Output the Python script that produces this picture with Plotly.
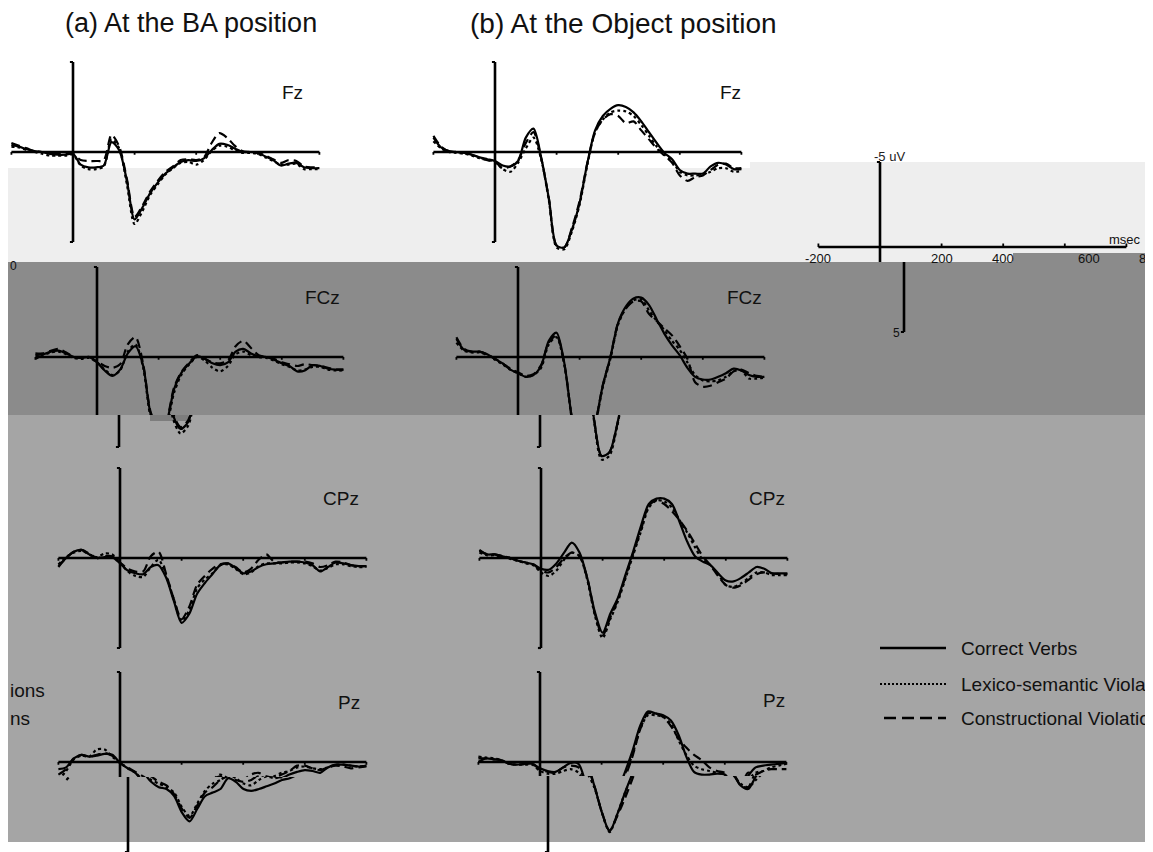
import plotly.graph_objects as go

# ---------------- data ----------------
TIME_MS = list(range(-200, 801, 25))
AXIS_UV = [-5, 5]
X_TICKS_MS = [-200, 200, 400, 600, 800]
KEY_TICK_LABELS = ["-200", "200", "400", "600", "800"]
CONDITIONS = ["Correct Verbs", "Lexico-semantic Violations", "Constructional Violations"]
ELECTRODES = ["Fz", "FCz", "CPz", "Pz"]
POSITIONS = ["(a) At the BA position", "(b) At the Object position"]

# values in microvolts (negative plotted up)
BA_FZ_CORRECT = [-0.4,-0.3,-0.15,-0.05,0.0,0.1,0.15,0.15,0.1,0.7,0.85,0.85,0.75,-0.55,-0.1,1.6,3.75,3.1,2.3,1.7,1.2,0.85,0.55,0.45,0.5,0.35,-0.1,-0.45,-0.4,-0.2,0.0,0.0,0.05,0.25,0.45,0.75,0.65,0.6,0.85,0.9,0.9]
BA_FZ_LEXICO = [-0.3,-0.25,-0.1,0.0,0.1,0.2,0.2,0.2,0.15,0.75,0.95,0.95,0.8,-0.7,-0.2,1.8,4.0,3.3,2.4,1.8,1.25,0.9,0.6,0.55,0.7,0.45,-0.05,-0.35,-0.3,-0.1,0.05,0.05,0.1,0.3,0.5,0.7,0.7,0.65,0.95,0.95,0.95]
BA_FZ_CONSTR = [-0.5,-0.35,-0.2,-0.05,0.0,0.05,0.1,0.1,0.1,0.45,0.5,0.5,0.45,-0.95,-0.3,1.5,3.6,3.0,2.2,1.6,1.1,0.8,0.45,0.4,0.45,0.3,-0.5,-1.05,-0.8,-0.35,-0.05,0.0,0.05,0.2,0.4,0.6,0.45,0.5,0.8,0.85,0.85]

OBJ_FZ_CORRECT = [-0.8,-0.25,-0.05,0.0,0.05,0.15,0.3,0.4,0.5,0.75,0.8,0.5,-0.8,-1.3,0.3,2.6,5.2,5.3,4.3,2.8,0.6,-1.2,-2.0,-2.4,-2.6,-2.5,-2.2,-1.7,-1.1,-0.5,0.05,0.4,1.0,1.2,1.2,1.2,0.8,0.6,0.7,0.95,0.95]
OBJ_FZ_LEXICO = [-0.6,-0.2,0.0,0.05,0.1,0.2,0.35,0.45,0.55,0.95,1.1,0.6,-0.2,-0.8,0.4,2.7,5.3,5.4,4.4,2.9,0.7,-1.1,-1.8,-2.2,-2.3,-2.25,-2.0,-1.5,-0.9,-0.3,0.15,0.5,1.1,1.3,1.3,1.25,1.1,0.9,0.9,1.1,1.05]
OBJ_FZ_CONSTR = [-0.9,-0.3,-0.05,0.0,0.05,0.15,0.3,0.45,0.55,0.9,0.8,0.45,-0.5,-1.1,0.35,2.6,5.2,5.3,4.2,2.7,0.6,-1.1,-1.8,-2.1,-2.0,-1.6,-1.7,-1.2,-0.7,-0.2,0.2,0.6,1.3,1.6,1.4,1.3,1.0,0.7,0.65,0.9,0.9]

BA_FCZ_CORRECT = [-0.1,-0.15,-0.3,-0.35,-0.2,0.0,0.05,0.0,0.3,0.75,1.05,0.7,-0.2,-0.6,0.5,3.2,4.0,3.6,1.8,0.85,0.35,-0.05,0.1,0.35,0.45,0.3,-0.3,-0.45,-0.2,-0.05,0.0,0.15,0.35,0.5,0.8,0.75,0.45,0.5,0.65,0.7,0.7]
BA_FCZ_LEXICO = [0.1,-0.1,-0.25,-0.3,-0.15,0.05,0.1,0.05,0.3,0.7,1.0,0.75,-0.3,-0.7,0.6,3.4,4.25,3.8,2.0,0.95,0.4,0.0,0.2,0.6,0.8,0.5,-0.15,-0.3,-0.1,0.0,0.05,0.2,0.4,0.55,0.75,0.7,0.55,0.55,0.7,0.75,0.75]
BA_FCZ_CONSTR = [-0.2,-0.2,-0.35,-0.45,-0.25,0.0,0.05,0.0,0.25,0.5,0.6,0.4,-0.7,-1.1,0.4,3.1,3.9,3.5,1.7,0.8,0.3,-0.1,0.1,0.3,0.35,0.2,-0.6,-0.9,-0.5,-0.1,0.0,0.1,0.3,0.4,0.5,0.4,0.45,0.5,0.6,0.7,0.7]

OBJ_FCZ_CORRECT = [-1.0,-0.4,-0.3,-0.3,-0.15,0.1,0.35,0.7,0.9,1.1,1.0,0.5,-0.9,-1.35,0.3,3.4,5.5,5.3,3.8,1.6,0.0,-1.9,-2.8,-3.25,-3.3,-2.9,-2.1,-1.3,-0.65,-0.1,0.6,1.1,1.25,1.25,1.1,0.9,0.65,0.75,1.0,1.1,1.1]
OBJ_FCZ_LEXICO = [-0.8,-0.35,-0.25,-0.25,-0.1,0.15,0.4,0.7,0.9,1.1,1.0,0.6,-0.7,-1.1,0.4,3.5,5.7,5.5,3.9,1.7,0.1,-1.8,-2.7,-3.15,-3.2,-2.6,-2.0,-1.5,-0.9,-0.4,0.3,1.0,1.3,1.35,1.3,1.1,0.8,0.75,1.2,1.2,1.15]
OBJ_FCZ_CONSTR = [-1.1,-0.45,-0.3,-0.3,-0.15,0.1,0.35,0.65,0.85,1.05,0.95,0.45,-0.8,-1.2,0.35,3.4,5.5,5.3,3.8,1.6,0.0,-1.9,-2.7,-3.1,-3.1,-2.4,-2.0,-1.6,-1.2,-0.6,0.1,1.4,1.65,1.6,1.4,1.2,0.8,0.7,0.9,1.05,1.1]

BA_CPZ_CORRECT = [0.45,0.0,-0.35,-0.45,-0.2,0.0,-0.05,-0.05,0.3,0.7,0.85,0.9,0.5,0.4,1.1,2.4,3.6,3.1,2.0,1.4,0.9,0.4,0.3,0.55,0.85,0.75,0.5,0.35,0.3,0.25,0.2,0.2,0.25,0.4,0.75,0.5,0.25,0.3,0.4,0.45,0.45]
BA_CPZ_LEXICO = [0.35,-0.05,-0.3,-0.4,-0.2,-0.05,-0.25,-0.2,0.25,0.75,1.0,1.05,0.5,0.1,1.0,2.3,3.5,2.9,1.7,1.2,0.85,0.4,0.35,0.6,0.9,0.8,0.45,0.3,0.3,0.3,0.25,0.25,0.3,0.45,0.7,0.55,0.35,0.35,0.45,0.5,0.5]
BA_CPZ_CONSTR = [0.5,0.0,-0.35,-0.45,-0.25,0.0,-0.1,-0.1,0.25,0.6,0.75,0.75,-0.1,-0.35,0.9,2.3,3.4,2.7,1.5,1.0,0.6,0.35,0.3,0.5,0.8,0.6,0.1,-0.2,0.2,0.25,0.2,0.2,0.2,0.3,0.5,0.4,0.2,0.25,0.4,0.45,0.45]

OBJ_CPZ_CORRECT = [-0.4,-0.2,-0.2,-0.1,0.0,0.15,0.25,0.35,0.6,0.65,0.3,-0.3,-0.85,-0.3,1.1,3.0,4.15,3.1,2.2,0.9,-0.4,-1.8,-3.0,-3.3,-3.3,-3.0,-2.0,-0.9,-0.1,0.2,0.4,0.85,1.25,1.3,1.1,0.8,0.5,0.6,0.85,0.85,0.85]
OBJ_CPZ_LEXICO = [-0.3,-0.15,-0.15,-0.05,0.05,0.15,0.3,0.4,0.8,1.0,0.7,0.1,-0.3,-0.1,1.2,3.2,4.45,3.4,2.4,1.1,-0.2,-1.5,-2.8,-3.2,-3.15,-2.8,-2.1,-1.4,-0.6,0.1,0.4,0.9,1.5,1.6,1.4,1.1,0.8,0.8,0.95,0.95,0.95]
OBJ_CPZ_CONSTR = [-0.45,-0.2,-0.2,-0.1,0.0,0.15,0.25,0.35,0.7,0.8,0.5,0.0,-0.3,-0.1,1.1,3.1,4.3,3.3,2.3,1.0,-0.3,-1.6,-2.9,-3.2,-3.0,-2.6,-2.1,-1.5,-0.8,-0.1,0.4,1.0,1.5,1.65,1.5,1.2,0.9,0.8,0.85,0.9,0.9]

BA_PZ_CORRECT = [0.4,0.3,-0.2,-0.4,-0.3,-0.35,-0.45,-0.4,0.05,0.35,0.6,1.1,1.4,1.5,1.9,2.8,3.3,2.6,1.9,1.7,1.5,0.9,1.1,1.5,1.6,1.5,1.35,1.2,1.0,0.9,0.7,0.55,0.45,0.5,0.6,0.3,0.15,0.15,0.2,0.25,0.2]
BA_PZ_LEXICO = [1.0,0.5,-0.15,-0.35,-0.3,-0.7,-0.7,-0.3,0.05,0.35,0.6,1.0,1.2,1.4,1.7,2.5,3.0,2.3,1.6,1.2,1.0,0.7,0.9,1.2,1.3,1.0,0.8,0.9,0.8,0.6,0.5,0.3,0.25,0.35,0.4,0.3,0.15,0.15,0.2,0.25,0.2]
BA_PZ_CONSTR = [0.7,0.4,-0.2,-0.4,-0.3,-0.4,-0.5,-0.35,0.05,0.3,0.55,0.8,1.1,1.3,1.8,2.6,3.1,2.4,1.7,1.4,1.0,0.8,1.0,1.1,1.0,0.7,0.6,0.8,0.85,0.7,0.5,0.2,0.2,0.35,0.45,0.3,0.2,0.25,0.35,0.3,0.25]

OBJ_PZ_CORRECT = [0.0,-0.2,-0.15,-0.1,0.1,0.15,0.1,0.1,0.35,0.5,0.55,0.3,0.05,0.1,1.3,2.8,3.85,2.9,1.7,0.6,-0.6,-2.0,-2.8,-2.7,-2.6,-2.3,-1.5,-0.3,0.55,0.7,0.7,0.65,0.7,1.3,1.5,0.8,0.3,0.2,0.15,0.1,0.05]
OBJ_PZ_LEXICO = [-0.3,-0.25,-0.2,-0.1,0.1,0.15,0.15,0.15,0.5,0.65,0.65,0.5,0.4,0.6,1.4,2.8,3.9,2.9,1.7,0.7,-0.4,-1.8,-2.6,-2.6,-2.5,-2.1,-1.2,-0.4,0.2,0.4,0.5,0.6,0.7,1.2,1.4,1.0,0.6,0.5,0.3,0.2,0.1]
OBJ_PZ_CONSTR = [-0.2,-0.2,-0.15,-0.1,0.1,0.15,0.1,0.1,0.4,0.55,0.6,0.3,0.2,0.3,1.3,2.8,3.8,3.0,2.0,0.9,-0.3,-1.8,-2.7,-2.7,-2.5,-2.0,-1.3,-0.8,-0.4,-0.1,0.3,0.5,0.6,1.3,1.4,0.6,0.7,0.5,0.4,0.4,0.4]

# ---------------- geometry / style ----------------
OFF = 8                 # page body margin
FW, FH = 1145, 844
PPMS = 0.308            # px per ms
PPV = 18.0              # px per microvolt (panels)
KEY_PPV = 17.0
FONT = "Liberation Sans, Arial, Helvetica, sans-serif"
STYLES = [dict(dash="solid", width=2.2), dict(dash="dot", width=2.2), dict(dash="9px,5px", width=2.2)]

fig = go.Figure()
shapes, annotations = [], []
axis_n = [0]


def pxx(sx):
    return min(max((sx - OFF) / FW, 0.0), 1.0)


def pyy(sy):
    return min(max(1 - (sy - OFF) / FH, 0.0), 1.0)


def new_axes(t0x, y0, ppv, ms_lo, ms_hi, strip):
    Y0, Y1, dx = strip
    axis_n[0] += 1
    n = axis_n[0]
    a = max(t0x + ms_lo * PPMS + dx, OFF)
    b = min(t0x + ms_hi * PPMS + dx, OFF + FW)
    s = "" if n == 1 else str(n)
    fig.update_layout(**{
        "xaxis" + s: dict(domain=[pxx(a), pxx(b)], range=[(a - dx - t0x) / PPMS, (b - dx - t0x) / PPMS],
                          visible=False, fixedrange=True, anchor="y" + s),
        "yaxis" + s: dict(domain=[pyy(Y1), pyy(Y0)], range=[(Y1 - y0) / ppv, (Y0 - y0) / ppv],
                          visible=False, fixedrange=True, anchor="x" + s),
    })
    return "x" + s, "y" + s


def line(xr, yr, xs, ys, width=2.5, dash="solid"):
    fig.add_trace(go.Scatter(x=xs, y=ys, mode="lines", xaxis=xr, yaxis=yr, showlegend=False,
                             hoverinfo="skip", line=dict(color="black", width=width, dash=dash)))


def draw_axes(xr, yr, tick_dir, tick_uv, bracket_ms):
    line(xr, yr, [X_TICKS_MS[0], X_TICKS_MS[-1]], [0, 0], 2.6)
    tx, ty = [], []
    for t in X_TICKS_MS:
        tx += [t, t, None]
        ty += [0, tick_dir * tick_uv, None]
    line(xr, yr, tx, ty, 1.8)
    line(xr, yr, [0, 0], AXIS_UV, 2.6)
    line(xr, yr, [-bracket_ms, 0, None, -bracket_ms, 0],
         [AXIS_UV[0], AXIS_UV[0], None, AXIS_UV[1], AXIS_UV[1]], 2.2)


PANELS = [
    (73, 152, [(55, 262, 0)], (292, 92), 0, [BA_FZ_CORRECT, BA_FZ_LEXICO, BA_FZ_CONSTR]),
    (495, 152, [(55, 262, 0)], (730, 92), 0, [OBJ_FZ_CORRECT, OBJ_FZ_LEXICO, OBJ_FZ_CONSTR]),
    (97, 357, [(262, 415, 0), (415, 466, 22)], (322, 297), 1, [BA_FCZ_CORRECT, BA_FCZ_LEXICO, BA_FCZ_CONSTR]),
    (518, 357, [(262, 415, 0), (415, 466, 22)], (744, 297), 1, [OBJ_FCZ_CORRECT, OBJ_FCZ_LEXICO, OBJ_FCZ_CONSTR]),
    (120, 558, [(466, 666, 0)], (341, 498), 2, [BA_CPZ_CORRECT, BA_CPZ_LEXICO, BA_CPZ_CONSTR]),
    (541, 558, [(466, 666, 0)], (767, 498), 2, [OBJ_CPZ_CORRECT, OBJ_CPZ_LEXICO, OBJ_CPZ_CONSTR]),
    (120, 762, [(666, 777, 0), (777, 852, 8)], (349, 702), 3, [BA_PZ_CORRECT, BA_PZ_LEXICO, BA_PZ_CONSTR]),
    (540, 762, [(666, 776, 0), (776, 852, 8)], (774, 700), 3, [OBJ_PZ_CORRECT, OBJ_PZ_LEXICO, OBJ_PZ_CONSTR]),
]

for t0x, y0, strips, lab, ei, series in PANELS:
    for strip in strips:
        xr, yr = new_axes(t0x, y0, PPV, -215, 835, strip)
        draw_axes(xr, yr, 1, 0.15, 10)
        for vals, st in zip(series, STYLES):
            fig.add_trace(go.Scatter(x=TIME_MS, y=vals, mode="lines", xaxis=xr, yaxis=yr,
                                     showlegend=False, hoverinfo="skip",
                                     line=dict(color="black", width=st["width"], dash=st["dash"],
                                               shape="spline", smoothing=0.8)))
    annotations.append(dict(text=ELECTRODES[ei], x=pxx(lab[0]), y=pyy(lab[1]), xref="paper", yref="paper",
                            showarrow=False, xanchor="center", yanchor="middle",
                            font=dict(family=FONT, size=19, color="#111")))

# ---------------- scale key ----------------
KEY_SHIFT = 24
key_axes = []
for strip in [(150, 262, 0), (262, 345, KEY_SHIFT)]:
    xr, yr = new_axes(880, 247, KEY_PPV, -300, 900, strip)
    draw_axes(xr, yr, -1, 0.2, 10)
    key_axes.append((xr, yr))
kx, ky = key_axes[0]
for t, lbl in zip(X_TICKS_MS, KEY_TICK_LABELS):
    annotations.append(dict(text=lbl, x=t, y=0.66, xref=kx, yref=ky, showarrow=False,
                            xshift=0 if t < 500 else KEY_SHIFT,
                            xanchor="center", yanchor="middle", font=dict(family=FONT, size=13, color="#111")))
annotations += [
    dict(text="-5 uV", x=pxx(889), y=pyy(156), xref="paper", yref="paper", showarrow=False,
         xanchor="center", yanchor="middle", font=dict(family=FONT, size=13, color="#222")),
    dict(text="msec", x=pxx(1125), y=pyy(239), xref="paper", yref="paper", showarrow=False,
         xanchor="center", yanchor="middle", font=dict(family=FONT, size=13, color="#111")),
    dict(text="5", x=pxx(896), y=pyy(333), xref="paper", yref="paper", showarrow=False,
         xanchor="center", yanchor="middle", font=dict(family=FONT, size=12, color="#111")),
    dict(text="0", x=pxx(8), y=pyy(266), xref="paper", yref="paper", showarrow=False,
         xanchor="left", yanchor="middle", font=dict(family=FONT, size=12, color="#111")),
]

# ---------------- titles ----------------
annotations.append(dict(text=POSITIONS[0], x=pxx(63), y=pyy(23), xref="paper", yref="paper", showarrow=False,
                        xanchor="left", yanchor="middle", font=dict(family=FONT, size=27, color="#111")))
annotations.append(dict(text=POSITIONS[1], x=pxx(468), y=pyy(23), xref="paper", yref="paper", showarrow=False,
                        xanchor="left", yanchor="middle", font=dict(family=FONT, size=28, color="#111")))

# ---------------- legend ----------------
LEG_Y = [648, 684, 718]
LEG_DASH = ["solid", "2px,2px", "12px,6px"]
LEG_X0 = [880, 880, 884]
for cond, ly, dsh, lx in zip(CONDITIONS, LEG_Y, LEG_DASH, LEG_X0):
    shapes.append(dict(type="line", xref="paper", yref="paper", x0=pxx(lx), x1=pxx(946), y0=pyy(ly), y1=pyy(ly),
                       line=dict(color="black", width=2.4 if dsh != "2px,2px" else 2, dash=dsh)))
    annotations.append(dict(text=cond, x=pxx(959), y=pyy(ly), xref="paper", yref="paper", showarrow=False,
                            xanchor="left", yanchor="middle", font=dict(family=FONT, size=19, color="#111")))
# wrapped tails of the cut legend text
annotations.append(dict(text="ions", x=0, y=pyy(690), xref="paper", yref="paper", showarrow=False,
                        xanchor="left", yanchor="middle", font=dict(family=FONT, size=19, color="#111")))
annotations.append(dict(text="ns", x=0, y=pyy(718), xref="paper", yref="paper", showarrow=False,
                        xanchor="left", yanchor="middle", font=dict(family=FONT, size=19, color="#111")))

# ---------------- background bands ----------------
def band(x0, x1, y0, y1, color):
    shapes.insert(0, dict(type="rect", xref="paper", yref="paper", x0=pxx(x0), x1=pxx(x1), y0=pyy(y1), y1=pyy(y0),
                          fillcolor=color, line=dict(width=0), layer="below"))

band(150, 188, 415, 421, "#7d7d7d")
band(1013, 1147, 253, 262, "#8b8b8b")
band(8, 1147, 415, 842, "#a5a5a5")
band(8, 1147, 262, 415, "#8b8b8b")
band(750, 1153, 162, 262, "#eeeeee")
band(8, 750, 168, 262, "#eeeeee")

fig.update_layout(width=FW, height=FH, autosize=False, margin=dict(l=0, r=0, t=0, b=0),
                  paper_bgcolor="white", plot_bgcolor="rgba(0,0,0,0)",
                  shapes=shapes, annotations=annotations, showlegend=False)
fig.write_html("out.html")
